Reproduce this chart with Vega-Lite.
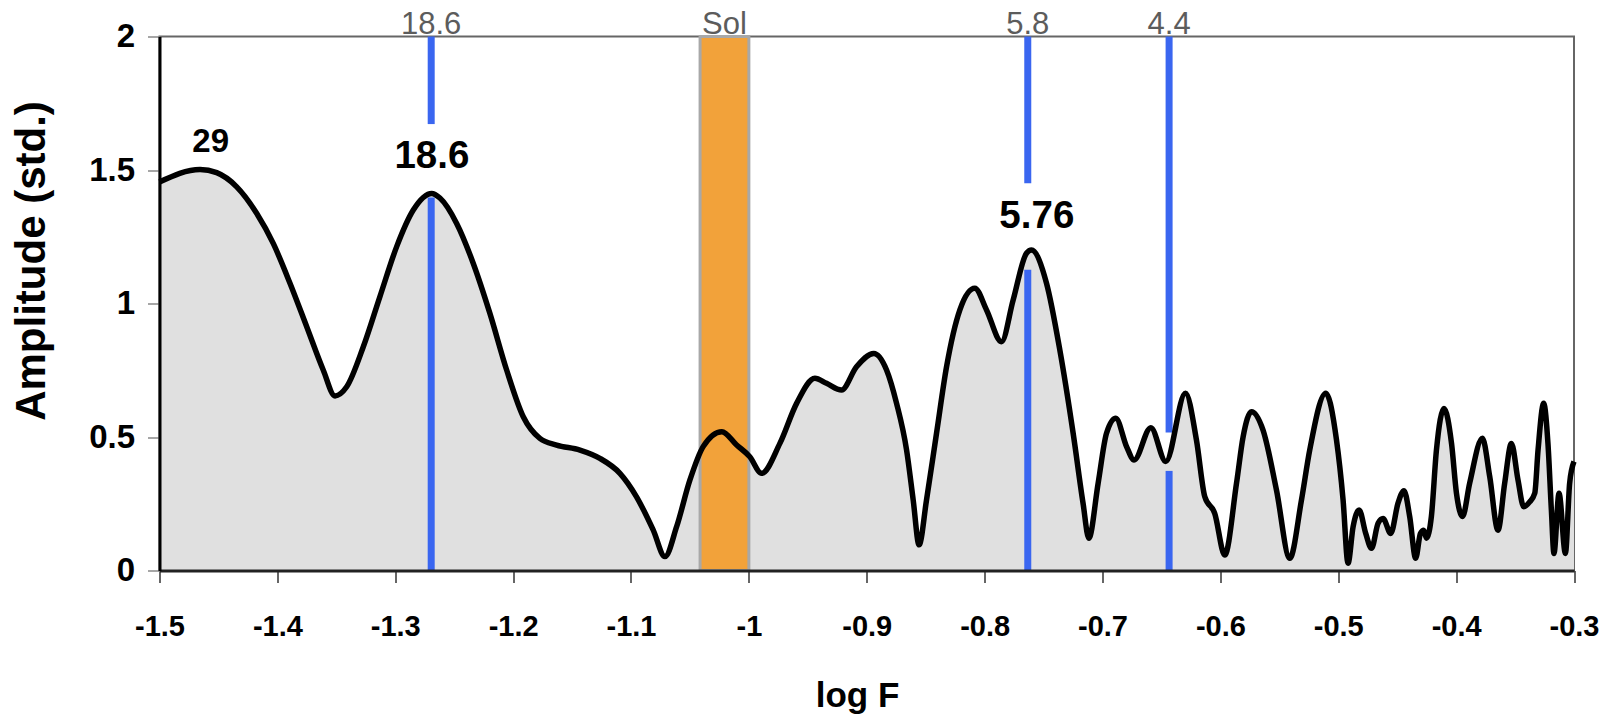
{
  "$schema": "https://vega.github.io/schema/vega-lite/v6.json",
  "width": 1414.5,
  "height": 534,
  "autosize": {"type": "none"},
  "padding": {"left": 159.5, "top": 36.5, "right": 43, "bottom": 147.5},
  "background": "white",
  "config": {"view": {"stroke": "#666666", "strokeWidth": 2}, "font": "Liberation Sans"},
  "datasets": {
    "curve": [
      {"logF": -1.5, "amp": 1.455}, {"logF": -1.4656, "amp": 1.502}, {"logF": -1.4515, "amp": 1.49}, {"logF": -1.4345, "amp": 1.437},
      {"logF": -1.4176, "amp": 1.338}, {"logF": -1.4035, "amp": 1.225}, {"logF": -1.3893, "amp": 1.076}, {"logF": -1.3751, "amp": 0.913},
      {"logF": -1.3611, "amp": 0.751}, {"logF": -1.3511, "amp": 0.654}, {"logF": -1.3412, "amp": 0.688}, {"logF": -1.3271, "amp": 0.838},
      {"logF": -1.313, "amp": 1.026}, {"logF": -1.2988, "amp": 1.213}, {"logF": -1.2847, "amp": 1.35}, {"logF": -1.2691, "amp": 1.412},
      {"logF": -1.2621, "amp": 1.395}, {"logF": -1.2479, "amp": 1.3}, {"logF": -1.2338, "amp": 1.15}, {"logF": -1.2197, "amp": 0.963},
      {"logF": -1.2055, "amp": 0.751}, {"logF": -1.1914, "amp": 0.576}, {"logF": -1.1773, "amp": 0.495}, {"logF": -1.1631, "amp": 0.47},
      {"logF": -1.1433, "amp": 0.451}, {"logF": -1.1264, "amp": 0.42}, {"logF": -1.1094, "amp": 0.364}, {"logF": -1.0953, "amp": 0.276},
      {"logF": -1.0812, "amp": 0.152}, {"logF": -1.0712, "amp": 0.052}, {"logF": -1.0613, "amp": 0.164}, {"logF": -1.05, "amp": 0.339},
      {"logF": -1.0388, "amp": 0.464}, {"logF": -1.0229, "amp": 0.52}, {"logF": -1.0104, "amp": 0.47}, {"logF": -0.9992, "amp": 0.426},
      {"logF": -0.9892, "amp": 0.364}, {"logF": -0.9737, "amp": 0.476}, {"logF": -0.9595, "amp": 0.626}, {"logF": -0.944, "amp": 0.72},
      {"logF": -0.9341, "amp": 0.701}, {"logF": -0.9214, "amp": 0.676}, {"logF": -0.9087, "amp": 0.763}, {"logF": -0.894, "amp": 0.813},
      {"logF": -0.8832, "amp": 0.751}, {"logF": -0.8747, "amp": 0.626}, {"logF": -0.8662, "amp": 0.451}, {"logF": -0.8606, "amp": 0.264},
      {"logF": -0.8556, "amp": 0.096}, {"logF": -0.8493, "amp": 0.264}, {"logF": -0.8408, "amp": 0.514}, {"logF": -0.8323, "amp": 0.763},
      {"logF": -0.821, "amp": 0.976}, {"logF": -0.8083, "amp": 1.057}, {"logF": -0.7984, "amp": 0.976}, {"logF": -0.7857, "amp": 0.857},
      {"logF": -0.7758, "amp": 1.013}, {"logF": -0.7645, "amp": 1.188}, {"logF": -0.7602, "amp": 1.2}, {"logF": -0.7475, "amp": 1.076},
      {"logF": -0.7362, "amp": 0.826}, {"logF": -0.7249, "amp": 0.514}, {"logF": -0.7165, "amp": 0.252}, {"logF": -0.7116, "amp": 0.121},
      {"logF": -0.7037, "amp": 0.327}, {"logF": -0.6966, "amp": 0.514}, {"logF": -0.6887, "amp": 0.57}, {"logF": -0.6796, "amp": 0.464},
      {"logF": -0.6732, "amp": 0.414}, {"logF": -0.659, "amp": 0.535}, {"logF": -0.6463, "amp": 0.408}, {"logF": -0.6296, "amp": 0.664},
      {"logF": -0.6203, "amp": 0.489}, {"logF": -0.6132, "amp": 0.276}, {"logF": -0.6048, "amp": 0.214}, {"logF": -0.5963, "amp": 0.058},
      {"logF": -0.5863, "amp": 0.327}, {"logF": -0.5807, "amp": 0.501}, {"logF": -0.5736, "amp": 0.595}, {"logF": -0.5638, "amp": 0.526},
      {"logF": -0.5524, "amp": 0.301}, {"logF": -0.5411, "amp": 0.046}, {"logF": -0.5312, "amp": 0.264}, {"logF": -0.5242, "amp": 0.451},
      {"logF": -0.5106, "amp": 0.664}, {"logF": -0.5015, "amp": 0.489}, {"logF": -0.4959, "amp": 0.264}, {"logF": -0.4917, "amp": 0.027},
      {"logF": -0.4874, "amp": 0.164}, {"logF": -0.4823, "amp": 0.227}, {"logF": -0.4767, "amp": 0.139}, {"logF": -0.4718, "amp": 0.083},
      {"logF": -0.4662, "amp": 0.177}, {"logF": -0.462, "amp": 0.195}, {"logF": -0.4555, "amp": 0.139}, {"logF": -0.4493, "amp": 0.252},
      {"logF": -0.4442, "amp": 0.299}, {"logF": -0.4394, "amp": 0.202}, {"logF": -0.4343, "amp": 0.046}, {"logF": -0.4303, "amp": 0.139},
      {"logF": -0.4275, "amp": 0.151}, {"logF": -0.4252, "amp": 0.121}, {"logF": -0.421, "amp": 0.202}, {"logF": -0.4167, "amp": 0.451},
      {"logF": -0.4103, "amp": 0.607}, {"logF": -0.4039, "amp": 0.476}, {"logF": -0.3997, "amp": 0.289}, {"logF": -0.3946, "amp": 0.202},
      {"logF": -0.3885, "amp": 0.327}, {"logF": -0.3777, "amp": 0.495}, {"logF": -0.3715, "amp": 0.352}, {"logF": -0.3645, "amp": 0.151},
      {"logF": -0.3588, "amp": 0.327}, {"logF": -0.3531, "amp": 0.476}, {"logF": -0.3475, "amp": 0.339}, {"logF": -0.3427, "amp": 0.239},
      {"logF": -0.3376, "amp": 0.257}, {"logF": -0.3333, "amp": 0.289}, {"logF": -0.3305, "amp": 0.451}, {"logF": -0.3257, "amp": 0.626},
      {"logF": -0.3221, "amp": 0.476}, {"logF": -0.3192, "amp": 0.227}, {"logF": -0.317, "amp": 0.064}, {"logF": -0.3127, "amp": 0.289},
      {"logF": -0.3073, "amp": 0.064}, {"logF": -0.3037, "amp": 0.327}, {"logF": -0.3, "amp": 0.408}
    ],
    "band": [{"logF": -1.0414, "logF2": -1.0, "amp": 0, "amp2": 2}],
    "rules": [
      {"logF": -1.2695, "amp": 0, "amp2": 1.397},
      {"logF": -1.2695, "amp": 1.672, "amp2": 2},
      {"logF": -0.7634, "amp": 0, "amp2": 1.126},
      {"logF": -0.7634, "amp": 1.45, "amp2": 2},
      {"logF": -0.6435, "amp": 0, "amp2": 0.373},
      {"logF": -0.6435, "amp": 0.517, "amp2": 2}
    ],
    "toplabels": [
      {"logF": -1.2695, "label": "18.6"},
      {"logF": -1.0207, "label": "Sol"},
      {"logF": -0.7634, "label": "5.8"},
      {"logF": -0.6435, "label": "4.4"}
    ],
    "peak29": [{"logF": -1.4566, "amp": 1.569, "label": "29"}],
    "peaks": [
      {"logF": -1.2689, "amp": 1.506, "label": "18.6"},
      {"logF": -0.7557, "amp": 1.282, "label": "5.76"}
    ]
  },
  "layer": [
    {
      "data": {"name": "curve"},
      "mark": {"type": "area", "interpolate": "monotone", "fill": "#e0e0e0"},
      "encoding": {
        "x": {
          "field": "logF", "type": "quantitative",
          "scale": {"domain": [-1.5, -0.3], "nice": false, "zero": false},
          "axis": {
            "title": "log F", "zindex": 1,
            "values": [-1.5, -1.4, -1.3, -1.2, -1.1, -1.0, -0.9, -0.8, -0.7, -0.6, -0.5, -0.4, -0.3],
            "labelExpr": "'' + datum.value",
            "labelFont": "Liberation Sans",
            "labelFontWeight": "bold", "labelFontSize": 29, "labelColor": "black",
            "labelBaseline": "alphabetic", "labelPadding": 53, "labelFlush": false, "labelOverlap": false,
            "tickSize": 12, "tickColor": "#333333", "tickWidth": 1.5,
            "domainColor": "#222222", "domainWidth": 3, "grid": false,
            "titleFont": "Liberation Sans",
            "titleFontWeight": "bold", "titleFontSize": 35, "titleColor": "black",
            "titleX": 697.5, "titleY": 136, "titleBaseline": "alphabetic", "titleAlign": "center"
          }
        },
        "y": {
          "field": "amp", "type": "quantitative",
          "scale": {"domain": [0, 2], "nice": false},
          "axis": {
            "title": "Amplitude (std.)", "zindex": 1,
            "values": [0, 0.5, 1, 1.5, 2],
            "labelExpr": "'' + datum.value",
            "labelFont": "Liberation Sans", "labelFontWeight": "bold", "labelFontSize": 33, "labelColor": "black",
            "labelPadding": 13,
            "tickSize": 12, "tickColor": "#888888", "tickWidth": 1.5,
            "domainColor": "#000000", "domainWidth": 3, "grid": false,
            "titleFont": "Liberation Sans", "titleFontWeight": "bold", "titleFontSize": 42, "titleColor": "black",
            "titleAngle": -90, "titleX": -115, "titleY": 224, "titleAlign": "center", "titleBaseline": "alphabetic"
          }
        }
      }
    },
    {
      "data": {"name": "band"},
      "mark": {"type": "rect", "fill": "#F2A23A", "stroke": "#A8A8A8", "strokeWidth": 3},
      "encoding": {
        "x": {"field": "logF", "type": "quantitative"},
        "x2": {"field": "logF2"},
        "y": {"field": "amp", "type": "quantitative"},
        "y2": {"field": "amp2"}
      }
    },
    {
      "data": {"name": "rules"},
      "mark": {"type": "rule", "color": "#3A66F0", "strokeWidth": 7},
      "encoding": {
        "x": {"field": "logF", "type": "quantitative"},
        "y": {"field": "amp", "type": "quantitative"},
        "y2": {"field": "amp2"}
      }
    },
    {
      "data": {"name": "curve"},
      "mark": {"type": "line", "interpolate": "monotone", "color": "black", "strokeWidth": 5.5, "strokeJoin": "round"},
      "encoding": {
        "x": {"field": "logF", "type": "quantitative"},
        "y": {"field": "amp", "type": "quantitative"}
      }
    },
    {
      "data": {"name": "toplabels"},
      "mark": {"type": "text", "font": "Liberation Sans", "fontSize": 31, "color": "#5c5c5c", "baseline": "alphabetic", "align": "center", "dy": -3},
      "encoding": {
        "x": {"field": "logF", "type": "quantitative"},
        "y": {"datum": 2, "type": "quantitative"},
        "text": {"field": "label"}
      }
    },
    {
      "data": {"name": "peak29"},
      "mark": {"type": "text", "font": "Liberation Sans", "fontWeight": "bold", "fontSize": 33, "color": "black", "baseline": "alphabetic", "align": "center"},
      "encoding": {
        "x": {"field": "logF", "type": "quantitative"},
        "y": {"field": "amp", "type": "quantitative"},
        "text": {"field": "label"}
      }
    },
    {
      "data": {"name": "peaks"},
      "mark": {"type": "text", "font": "Liberation Sans", "fontWeight": "bold", "fontSize": 38.5, "color": "black", "baseline": "alphabetic", "align": "center"},
      "encoding": {
        "x": {"field": "logF", "type": "quantitative"},
        "y": {"field": "amp", "type": "quantitative"},
        "text": {"field": "label"}
      }
    }
  ]
}
